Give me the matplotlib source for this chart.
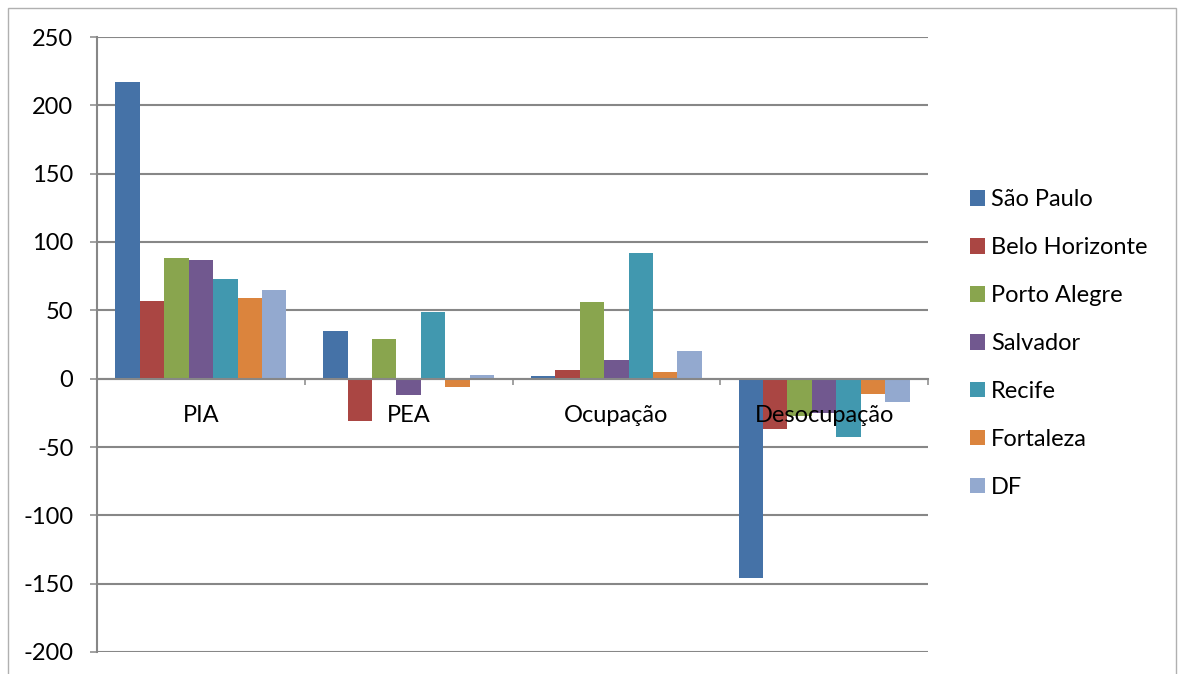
import matplotlib
matplotlib.use("Agg")
import matplotlib.pyplot as plt
from matplotlib.patches import Rectangle
import numpy as np

# Variation by metropolitan region and indicator
categories = ["PIA", "PEA", "Ocupação", "Desocupação"]
series_names = ["São Paulo", "Belo Horizonte", "Porto Alegre", "Salvador",
                "Recife", "Fortaleza", "DF"]
sao_paulo = [217, 35, 2, -146]
belo_horizonte = [57, -31, 6, -37]
porto_alegre = [88, 29, 56, -27]
salvador = [87, -12, 14, -25]
recife = [73, 49, 92, -43]
fortaleza = [59, -6, 5, -11]
distrito_federal = [65, 3, 20, -17]
y_ticks = [-200, -150, -100, -50, 0, 50, 100, 150, 200, 250]

series_values = [sao_paulo, belo_horizonte, porto_alegre, salvador,
                 recife, fortaleza, distrito_federal]
colors = ["#4572A7", "#AA4643", "#89A54E", "#71588F",
          "#4198AF", "#DB843D", "#93A9CF"]

plt.rcParams["font.family"] = ["Lato", "DejaVu Sans"]

W, H = 1178, 674
fig = plt.figure(figsize=(W / 100, H / 100), dpi=100)
fig.patch.set_facecolor("white")

# chart frame
fig.patches.append(Rectangle((8 / W, -0.05), (1176 - 8) / W, 1 - 8 / H + 0.05,
                             transform=fig.transFigure, fill=False,
                             edgecolor="#b0b0b0", linewidth=1.0))

ax = fig.add_axes([97 / W, 1 - 652 / H, (928 - 97) / W, (652 - 37) / H])

grid_color = "#878787"
n = len(series_names)
bar_w = 1 / (n + 1.5)
x = np.arange(len(categories))
handles = []
for i, (vals, col) in enumerate(zip(series_values, colors)):
    h = ax.bar(x + (i - (n - 1) / 2) * bar_w, vals, width=bar_w, color=col,
               linewidth=0, zorder=1)
    handles.append(h)

ax.set_xlim(-0.5, len(categories) - 0.5)
ax.set_ylim(-200, 250)
ax.set_yticks(y_ticks)
ax.set_yticklabels([str(v) for v in y_ticks])

ax.yaxis.grid(True, color=grid_color, linewidth=1.5)
ax.set_axisbelow(True)
# category labels sit on top of the bars
ax.xaxis.set_zorder(4)

for s in ("top", "right"):
    ax.spines[s].set_visible(False)
ax.spines["left"].set_color(grid_color)
ax.spines["left"].set_linewidth(1.5)
ax.spines["bottom"].set_position(("data", 0))
ax.spines["bottom"].set_color(grid_color)
ax.spines["bottom"].set_linewidth(1.5)
ax.spines["bottom"].set_zorder(3)

ax.tick_params(axis="y", direction="out", length=5, width=1.1,
               color=grid_color, pad=12, labelsize=17, labelcolor="black")
ax.set_xticks(x)
ax.set_xticklabels(categories)
ax.set_xticks(np.arange(len(categories) + 1) - 0.5, minor=True)
ax.tick_params(axis="x", which="major", length=0, pad=19, labelsize=17,
               labelcolor="black")
ax.tick_params(axis="x", which="minor", direction="out", length=4.5,
               width=1.1, color=grid_color)

ax.legend(handles, series_names, loc="center left",
          bbox_to_anchor=(970 / W, 1 - 343.5 / H), bbox_transform=fig.transFigure,
          frameon=False, fontsize=17, handlelength=0.64, handleheight=0.64,
          handletextpad=0.24, labelspacing=1.14, borderpad=0, borderaxespad=0)

fig.savefig("out.png", dpi=100, facecolor="white")
